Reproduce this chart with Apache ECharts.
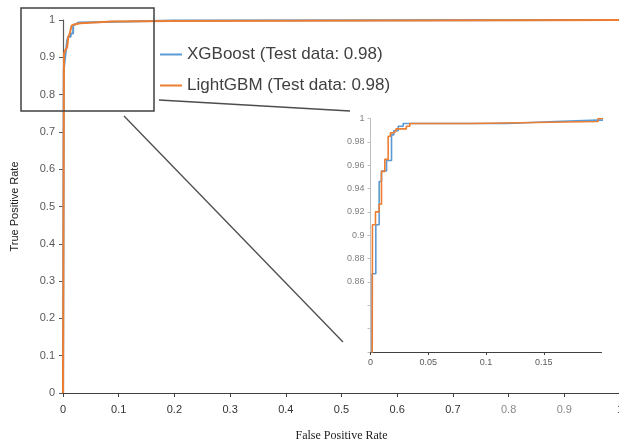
<!DOCTYPE html>
<html>
<head>
<meta charset="utf-8">
<script src="https://cdn.jsdelivr.net/npm/echarts@6/dist/echarts.min.js"></script>
<style>
  html, body { margin: 0; padding: 0; background: #fff; }
  #chart { width: 619px; height: 444px; }
</style>
</head>
<body>
<div id="chart"></div>
<script>
// ROC points (false positive rate, true positive rate)
const xgbFpr = [0, 0.0014, 0.0046, 0.0075, 0.0095, 0.0139, 0.0182, 0.0202, 0.0240, 0.0283, 0.118, 0.160, 0.197, 1]
const xgbTpr = [0, 0.867, 0.909, 0.946, 0.955, 0.964, 0.986, 0.9895, 0.9934, 0.9957, 0.9974, 0.9986, 1, 1]

const lgbFpr = [0, 0.0017, 0.0043, 0.0075, 0.0095, 0.0124, 0.0153, 0.0173, 0.0197, 0.0220, 0.0310, 0.0340, 0.0876, 0.197, 1]
const lgbTpr = [0, 0.909, 0.920, 0.9266, 0.9547, 0.965, 0.9848, 0.9877, 0.989, 0.9911, 0.9934, 0.9957, 0.9974, 1, 1]

const seriesNames = ['XGBoost (Test data: 0.98)', 'LightGBM (Test data: 0.98)']
const seriesColors = ['#5B9BD5', '#ED7D31']

const toPairs = (xs, ys) => xs.map((x, i) => [x, ys[i]])
const curves = [toPairs(xgbFpr, xgbTpr), toPairs(lgbFpr, lgbTpr)]

const chart = echarts.init(document.getElementById('chart'))

const lightLabels = [0.8, 0.9]
const isLight = (v) => lightLabels.some((l) => Math.abs(l - v) < 1e-6)

chart.setOption({
  animation: false,
  legend: {
    data: seriesNames.map((name) => ({ name, icon: 'rect' })),
    orient: 'vertical',
    left: 155,
    top: 41,
    itemWidth: 22,
    itemHeight: 2,
    itemGap: 14,
    textStyle: { fontFamily: 'Liberation Sans', fontSize: 17, color: '#404040' },
  },
  grid: [
    { left: 63, top: 20, width: 557, height: 373, outerBoundsMode: 'none' },
    { left: 370.5, top: 118.5, width: 231, height: 233.5, outerBoundsMode: 'none' },
  ],
  xAxis: [
    {
      gridIndex: 0,
      type: 'value',
      min: 0,
      max: 1,
      interval: 0.1,
      name: 'False Positive Rate',
      nameLocation: 'middle',
      nameGap: 37,
      nameTextStyle: { fontFamily: 'Liberation Serif', fontSize: 12, color: '#222' },
      axisLine: { lineStyle: { color: '#404040', width: 1.2 } },
      axisTick: { show: true, length: 4, lineStyle: { color: '#404040' } },
      splitLine: { show: false },
      axisLabel: {
        margin: 11,
        fontFamily: 'Liberation Sans',
        fontSize: 11,
        color: '#333',
        formatter: (v) => (isLight(v) ? '{l|' + v + '}' : String(v)),
        rich: { l: { fontFamily: 'Liberation Sans', fontSize: 11, color: '#8a8a8a' } },
      },
    },
    {
      gridIndex: 1,
      type: 'value',
      min: 0,
      max: 0.2,
      interval: 0.05,
      axisLine: { lineStyle: { color: '#404040', width: 1 } },
      axisTick: { show: true, length: 3, lineStyle: { color: '#404040' } },
      splitLine: { show: false },
      axisLabel: { showMaxLabel: false, margin: 6, fontFamily: 'Liberation Sans', fontSize: 9, color: '#595959' },
    },
  ],
  yAxis: [
    {
      gridIndex: 0,
      type: 'value',
      min: 0,
      max: 1,
      interval: 0.1,
      name: 'True Positive Rate',
      nameLocation: 'middle',
      nameGap: 43,
      nameTextStyle: { fontFamily: 'Liberation Sans', fontSize: 11, color: '#222' },
      axisLine: { show: true, lineStyle: { color: '#595959', width: 1.2 } },
      axisTick: { show: true, length: 4, lineStyle: { color: '#595959' } },
      splitLine: { show: false },
      axisLabel: { margin: 8, fontFamily: 'Liberation Sans', fontSize: 11, color: '#595959' },
    },
    {
      gridIndex: 1,
      type: 'value',
      min: 0.8,
      max: 1,
      interval: 0.02,
      axisLine: { show: true, lineStyle: { color: '#bfbfbf', width: 1 } },
      axisTick: { show: true, length: 3, lineStyle: { color: '#bfbfbf' } },
      splitLine: { show: false },
      axisLabel: {
        margin: 6,
        fontFamily: 'Liberation Sans',
        fontSize: 9,
        color: '#7f7f7f',
        formatter: (v) => (v < 0.855 ? '' : String(+v.toFixed(2))),
      },
    },
  ],
  // zoom box in the main plot and the two lines tying it to the inset
  graphic: [
    { type: 'rect', shape: { x: 21, y: 8, width: 133, height: 103 }, style: { fill: 'none', stroke: '#404040', lineWidth: 1.5 }, z: 10 },
    { type: 'line', shape: { x1: 159, y1: 100, x2: 350, y2: 111 }, style: { stroke: '#4d4d4d', lineWidth: 1.3 }, z: 10 },
    { type: 'line', shape: { x1: 124, y1: 116, x2: 343, y2: 342 }, style: { stroke: '#4d4d4d', lineWidth: 1.3 }, z: 10 },
  ],
  series: [
    ...curves.map((data, i) => ({
      name: seriesNames[i],
      type: 'line',
      xAxisIndex: 0,
      yAxisIndex: 0,
      step: 'end',
      symbol: 'none',
      data,
      lineStyle: { color: seriesColors[i], width: 2 },
      itemStyle: { color: seriesColors[i] },
    })),
    ...curves.map((data, i) => ({
      name: seriesNames[i],
      type: 'line',
      xAxisIndex: 1,
      yAxisIndex: 1,
      step: 'end',
      symbol: 'none',
      clip: true,
      data,
      lineStyle: { color: seriesColors[i], width: 1.6 },
      itemStyle: { color: seriesColors[i] },
    })),
  ],
})
</script>
</body>
</html>
